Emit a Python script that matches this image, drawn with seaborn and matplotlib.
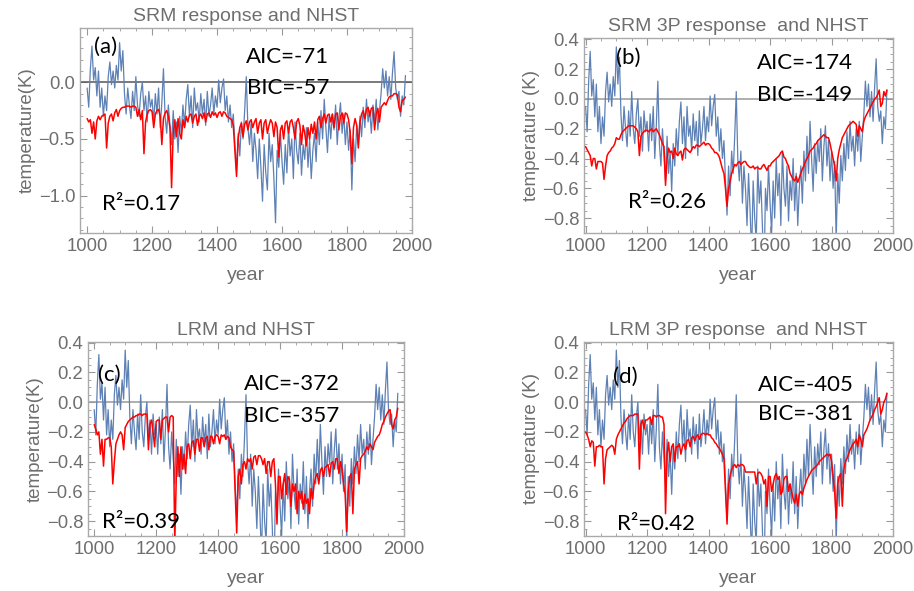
import numpy as np
import pandas as pd
import matplotlib
matplotlib.use('Agg')
import matplotlib.pyplot as plt
import seaborn as sns
from matplotlib.ticker import MultipleLocator, FuncFormatter

# years, 5-year steps
years = np.arange(1000, 1981, 5)

# NHST reconstruction (blue, same in every panel)
nhst = [
    -0.05, -0.22, 0.12, 0.32, 0.02, 0.13, -0.12, 0.10, -0.22, -0.05,
    -0.30, -0.12, -0.25, 0.05, 0.18, -0.02, 0.10, -0.05, 0.15, 0.02,
    0.35, 0.10, 0.28, -0.10, -0.28, -0.05, -0.20, -0.32, -0.08, -0.25,
    0.05, -0.20, -0.30, -0.10, 0.00, -0.25, -0.12, -0.35, -0.08, -0.22,
    -0.15, -0.35, -0.10, -0.28, -0.05, -0.40, -0.18, 0.12, -0.30, -0.45,
    -0.20, -0.38, -0.55, -0.25, -0.50, -0.35, -0.62, -0.30, -0.45, -0.20,
    -0.38, -0.15, -0.02, -0.30, -0.12, -0.40, -0.05, -0.25, -0.18, -0.35,
    -0.10, -0.28, -0.15, -0.38, -0.08, -0.30, -0.20, -0.05, -0.28, -0.12,
    -0.22, 0.02, -0.18, -0.05, 0.03, -0.25, -0.12, -0.35, -0.20, -0.40,
    -0.28, -0.55, -0.78, -0.45, -0.65, -0.35, -0.50, -0.25, 0.05, -0.40,
    -0.55, -0.35, -0.70, -0.45, -0.60, -0.85, -0.50, -0.75, -1.05, -0.55,
    -0.80, -0.95, -0.45, -0.70, -0.55, -0.85, -1.24, -0.60, -0.75, -0.45,
    -0.70, -0.90, -0.55, -0.80, -0.40, -0.65, -0.50, -0.85, -0.35, -0.60,
    -0.72, -0.45, -0.82, -0.55, -0.68, -0.40, -0.75, -0.50, -0.85, -0.60,
    -0.45, -0.70, -0.35, -0.55, -0.25, -0.50, -0.15, -0.40, -0.62, -0.30,
    -0.50, -0.28, -0.42, -0.20, -0.55, -0.32, -0.18, -0.45, -0.28, -0.55,
    -0.35, -0.60, -0.42, -0.95, -0.50, -0.70, -0.38, -0.55, -0.30, -0.48,
    -0.22, -0.40, -0.15, -0.35, -0.25, -0.45, -0.20, -0.35, -0.15, -0.42,
    -0.25, -0.10, 0.12, -0.05, 0.10, -0.12, 0.05, -0.15, 0.08, 0.27,
    -0.05, -0.15, -0.08, -0.30, -0.12, -0.20, 0.06,
]

# model responses (red)
srm = [
    -0.32, -0.35, -0.33, -0.45, -0.35, -0.50, -0.34, -0.30, -0.33, -0.30,
    -0.29, -0.28, -0.58, -0.36, -0.30, -0.28, -0.34, -0.27, -0.24, -0.30,
    -0.25, -0.23, -0.22, -0.22, -0.21, -0.21, -0.21, -0.22, -0.21, -0.21,
    -0.22, -0.30, -0.24, -0.33, -0.25, -0.63, -0.35, -0.28, -0.25, -0.24,
    -0.26, -0.40, -0.28, -0.25, -0.24, -0.30, -0.55, -0.32, -0.27, -0.25,
    -0.30, -0.40, -0.93, -0.45, -0.33, -0.48, -0.32, -0.45, -0.50, -0.33,
    -0.40, -0.30, -0.35, -0.29, -0.28, -0.36, -0.30, -0.28, -0.38, -0.30,
    -0.28, -0.32, -0.27, -0.35, -0.28, -0.27, -0.31, -0.26, -0.29, -0.27,
    -0.31, -0.27, -0.26, -0.30, -0.26, -0.27, -0.30, -0.31, -0.32, -0.33,
    -0.38, -0.60, -0.83, -0.50, -0.40, -0.36, -0.48, -0.37, -0.34, -0.42,
    -0.35, -0.33, -0.40, -0.35, -0.32, -0.45, -0.36, -0.33, -0.50, -0.36,
    -0.33, -0.45, -0.38, -0.33, -0.36, -0.48, -0.35, -0.40, -0.66, -0.42,
    -0.38, -0.50, -0.36, -0.34, -0.45, -0.35, -0.33, -0.40, -0.50, -0.35,
    -0.32, -0.38, -0.55, -0.38, -0.45, -0.56, -0.40, -0.50, -0.37, -0.45,
    -0.35, -0.50, -0.33, -0.30, -0.40, -0.32, -0.28, -0.36, -0.29, -0.28,
    -0.35, -0.28, -0.40, -0.28, -0.27, -0.42, -0.30, -0.27, -0.36, -0.27,
    -0.28, -0.33, -0.45, -0.72, -0.40, -0.32, -0.38, -0.58, -0.35, -0.28,
    -0.25, -0.32, -0.24, -0.22, -0.30, -0.23, -0.22, -0.42, -0.28, -0.23,
    -0.35, -0.22, -0.20, -0.18, -0.20, -0.16, -0.13, -0.12, -0.12, -0.10,
    -0.10, -0.11, -0.22, -0.26, -0.16, -0.15, -0.13,
]

srm_3p = [
    -0.32, -0.34, -0.36, -0.38, -0.45, -0.40, -0.40, -0.47, -0.42, -0.42,
    -0.42, -0.43, -0.54, -0.45, -0.38, -0.36, -0.35, -0.33, -0.32, -0.30,
    -0.26, -0.27, -0.27, -0.24, -0.22, -0.21, -0.20, -0.19, -0.18, -0.18,
    -0.18, -0.18, -0.19, -0.20, -0.22, -0.38, -0.25, -0.23, -0.22, -0.21,
    -0.21, -0.22, -0.21, -0.20, -0.22, -0.21, -0.20, -0.22, -0.24, -0.27,
    -0.30, -0.32, -0.58, -0.40, -0.33, -0.36, -0.35, -0.40, -0.33, -0.37,
    -0.38, -0.36, -0.35, -0.41, -0.34, -0.33, -0.34, -0.35, -0.36, -0.34,
    -0.32, -0.33, -0.31, -0.31, -0.32, -0.31, -0.30, -0.29, -0.31, -0.30,
    -0.30, -0.31, -0.33, -0.34, -0.36, -0.36, -0.37, -0.39, -0.43, -0.47,
    -0.50, -0.60, -0.72, -0.60, -0.55, -0.50, -0.47, -0.44, -0.45, -0.43,
    -0.42, -0.44, -0.43, -0.42, -0.42, -0.44, -0.45, -0.46, -0.46, -0.45,
    -0.47, -0.46, -0.46, -0.47, -0.47, -0.45, -0.44, -0.46, -0.48, -0.45,
    -0.45, -0.43, -0.42, -0.41, -0.40, -0.39, -0.38, -0.36, -0.35, -0.39,
    -0.40, -0.43, -0.45, -0.50, -0.52, -0.54, -0.55, -0.52, -0.56, -0.53,
    -0.50, -0.47, -0.45, -0.42, -0.40, -0.38, -0.35, -0.34, -0.33, -0.31,
    -0.30, -0.28, -0.27, -0.26, -0.25, -0.24, -0.25, -0.26, -0.26, -0.30,
    -0.35, -0.40, -0.45, -0.55, -0.40, -0.34, -0.30, -0.26, -0.24, -0.22,
    -0.20, -0.18, -0.17, -0.16, -0.15, -0.16, -0.17, -0.25, -0.18, -0.20,
    -0.22, -0.15, -0.12, -0.10, -0.08, -0.06, -0.04, -0.02, 0.00, 0.01,
    0.03, 0.06, -0.05, -0.03, 0.05, 0.02, 0.06,
]

lrm = [
    -0.15, -0.18, -0.22, -0.20, -0.35, -0.25, -0.43, -0.25, -0.25, -0.24,
    -0.24, -0.30, -0.55, -0.40, -0.28, -0.25, -0.22, -0.20, -0.22, -0.32,
    -0.17, -0.15, -0.13, -0.12, -0.11, -0.10, -0.10, -0.09, -0.09, -0.08,
    -0.08, -0.09, -0.08, -0.08, -0.08, -0.32, -0.15, -0.12, -0.20, -0.30,
    -0.13, -0.12, -0.12, -0.25, -0.12, -0.11, -0.10, -0.10, -0.20, -0.10,
    -0.09, -0.10, -0.95, -0.50, -0.30, -0.50, -0.30, -0.45, -0.35, -0.48,
    -0.30, -0.28, -0.38, -0.27, -0.26, -0.35, -0.25, -0.25, -0.33, -0.24,
    -0.24, -0.30, -0.24, -0.23, -0.32, -0.23, -0.23, -0.28, -0.23, -0.22,
    -0.23, -0.28, -0.22, -0.23, -0.22, -0.25, -0.23, -0.24, -0.30, -0.32,
    -0.33, -0.60, -0.88, -0.50, -0.45, -0.55, -0.42, -0.40, -0.45, -0.38,
    -0.40, -0.38, -0.45, -0.37, -0.36, -0.42, -0.36, -0.36, -0.38, -0.42,
    -0.38, -0.48, -0.40, -0.40, -0.50, -0.40, -0.38, -0.55, -0.82, -0.50,
    -0.50, -0.65, -0.55, -0.48, -0.62, -0.50, -0.52, -0.70, -0.55, -0.60,
    -0.55, -0.75, -0.60, -0.65, -0.60, -0.72, -0.62, -0.68, -0.65, -0.75,
    -0.58, -0.65, -0.55, -0.50, -0.48, -0.55, -0.46, -0.44, -0.50, -0.44,
    -0.43, -0.42, -0.50, -0.41, -0.40, -0.45, -0.38, -0.38, -0.48, -0.40,
    -0.45, -0.55, -0.62, -0.87, -0.60, -0.50, -0.48, -0.75, -0.45, -0.42,
    -0.40, -0.55, -0.38, -0.36, -0.35, -0.33, -0.30, -0.32, -0.28, -0.30,
    -0.32, -0.27, -0.25, -0.23, -0.22, -0.19, -0.15, -0.13, -0.10, -0.08,
    -0.06, -0.05, -0.15, -0.18, -0.12, -0.10, -0.04,
]

lrm_3p = [
    -0.20, -0.22, -0.25, -0.30, -0.26, -0.27, -0.43, -0.30, -0.30, -0.29,
    -0.30, -0.30, -0.55, -0.38, -0.32, -0.31, -0.30, -0.29, -0.30, -0.35,
    -0.25, -0.22, -0.20, -0.18, -0.16, -0.14, -0.13, -0.11, -0.10, -0.09,
    -0.09, -0.09, -0.08, -0.08, -0.08, -0.45, -0.15, -0.12, -0.18, -0.12,
    -0.12, -0.11, -0.10, -0.15, -0.09, -0.09, -0.10, -0.09, -0.09, -0.10,
    -0.10, -0.15, -0.75, -0.35, -0.27, -0.40, -0.30, -0.28, -0.40, -0.30,
    -0.30, -0.28, -0.35, -0.30, -0.28, -0.32, -0.26, -0.25, -0.30, -0.24,
    -0.23, -0.26, -0.23, -0.22, -0.25, -0.22, -0.21, -0.21, -0.22, -0.21,
    -0.22, -0.22, -0.24, -0.25, -0.27, -0.28, -0.30, -0.31, -0.33, -0.35,
    -0.38, -0.60, -0.82, -0.55, -0.50, -0.45, -0.43, -0.42, -0.44, -0.42,
    -0.43, -0.42, -0.42, -0.43, -0.47, -0.47, -0.47, -0.47, -0.47, -0.47,
    -0.47, -0.55, -0.48, -0.47, -0.48, -0.50, -0.55, -0.52, -0.70, -0.50,
    -0.50, -0.60, -0.55, -0.50, -0.48, -0.52, -0.50, -0.62, -0.60, -0.52,
    -0.50, -0.50, -0.60, -0.55, -0.60, -0.65, -0.68, -0.62, -0.70, -0.62,
    -0.60, -0.62, -0.58, -0.55, -0.52, -0.50, -0.48, -0.46, -0.45, -0.44,
    -0.43, -0.42, -0.40, -0.39, -0.38, -0.37, -0.36, -0.35, -0.36, -0.35,
    -0.40, -0.50, -0.60, -0.78, -0.55, -0.50, -0.48, -0.70, -0.45, -0.40,
    -0.38, -0.35, -0.32, -0.30, -0.28, -0.27, -0.25, -0.30, -0.22, -0.25,
    -0.30, -0.22, -0.20, -0.18, -0.15, -0.12, -0.10, -0.08, -0.05, -0.03,
    0.00, 0.03, -0.08, -0.05, 0.00, 0.02, 0.06,
]

titles = ['SRM response and NHST', 'SRM 3P response  and NHST',
          'LRM and NHST', 'LRM 3P response  and NHST']
ylabels = ['temperature(K)', 'temperature (K)', 'temperature(K)', 'temperature (K)']
tags = ['(a)', '(b)', '(c)', '(d)']
aic = [-71, -174, -372, -405]
bic = [-57, -149, -357, -381]
r2 = ['0.17', '0.26', '0.39', '0.42']
models = [srm, srm_3p, lrm, lrm_3p]

sns.set_style('ticks')
plt.rcParams['font.family'] = ['Liberation Sans', 'DejaVu Sans']

BLUE = '#5E81B5'
GRAY = '#6e6e6e'

fig = plt.figure(figsize=(9.14, 5.91), dpi=100)

# axes rectangles (figure fractions)
rects = [
    [0.0875, 0.6058, 0.3632, 0.3469],
    [0.6390, 0.6058, 0.3381, 0.3300],
    [0.0963, 0.0931, 0.3457, 0.3283],
    [0.6390, 0.0931, 0.3381, 0.3283],
]
xlims = [(978, 2000), (995, 2000), (980, 2000), (995, 2000)]
ylims = [(-1.33, 0.48), (-0.9, 0.41), (-0.9, 0.405), (-0.9, 0.405)]
# text positions in axes fraction: tag, AIC, BIC, R2
tpos = [
    [(0.042, 0.907), (0.50, 0.859), (0.503, 0.707), (0.066, 0.141)],
    [(0.104, 0.897), (0.56, 0.87), (0.56, 0.708), (0.142, 0.159)],
    [(0.032, 0.83), (0.494, 0.784), (0.494, 0.619), (0.044, 0.072)],
    [(0.094, 0.82), (0.563, 0.778), (0.563, 0.629), (0.107, 0.062)],
]

yfmt = FuncFormatter(lambda v, p: f'{v:.1f}'.replace('-', '\u2212'))

for i in range(4):
    ax = fig.add_axes(rects[i])
    df = pd.DataFrame({'year': years, 'nhst': nhst, 'model': models[i]})
    ax.axhline(0, color='#555555' if i == 0 else '#999999', lw=1.1, zorder=1)
    sns.lineplot(data=df, x='year', y='nhst', ax=ax, color=BLUE, lw=0.9, zorder=2)
    sns.lineplot(data=df, x='year', y='model', ax=ax, color='red', lw=1.1, zorder=3)
    ax.set_xlim(*xlims[i])
    ax.set_ylim(*ylims[i])
    ax.xaxis.set_major_locator(MultipleLocator(200))
    ax.xaxis.set_minor_locator(MultipleLocator(50))
    if i == 0:
        ax.yaxis.set_major_locator(MultipleLocator(0.5))
        ax.yaxis.set_minor_locator(MultipleLocator(0.1))
    else:
        ax.yaxis.set_major_locator(MultipleLocator(0.2))
        ax.yaxis.set_minor_locator(MultipleLocator(0.05))
    ax.yaxis.set_major_formatter(yfmt)
    ax.tick_params(which='both', direction='in', top=True, right=True,
                   color='#999999', labelcolor=GRAY, labelsize=13.3)
    ax.tick_params(which='major', length=5, width=0.8)
    ax.tick_params(which='minor', length=2.5, width=0.6)
    for sp in ax.spines.values():
        sp.set_color('#aaaaaa')
        sp.set_linewidth(1)
    ax.set_title(titles[i], color=GRAY, fontsize=14, pad=5)
    ax.set_xlabel('year', color=GRAY, fontsize=14, labelpad=9)
    ax.set_ylabel(ylabels[i], color=GRAY, fontsize=13.5, labelpad=2)

    p = tpos[i]
    tkw = dict(transform=ax.transAxes, fontsize=16, family=['Lato', 'DejaVu Sans'],
               va='center', ha='left', color='black', zorder=5)
    ax.text(*p[0], tags[i], **tkw)
    ax.text(*p[1], f'AIC={aic[i]}', **tkw)
    ax.text(*p[2], f'BIC={bic[i]}', **tkw)
    ax.text(*p[3], f'R\u00b2={r2[i]}', **tkw)

fig.savefig('out.png', dpi=100)
